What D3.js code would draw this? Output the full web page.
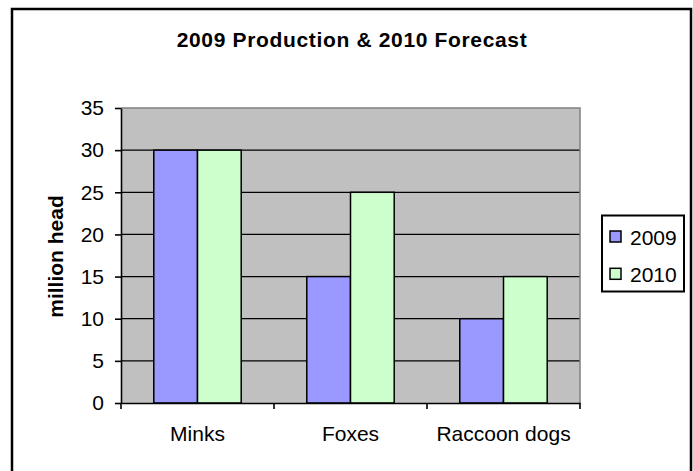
<!DOCTYPE html>
<html>
<head>
<meta charset="utf-8">
<script src="https://cdn.jsdelivr.net/npm/d3@7"></script>
<style>
  html, body { margin: 0; padding: 0; background: #fff; }
  svg { display: block; }
  text { font-family: "Liberation Sans", Arial, sans-serif; fill: #000; }
</style>
</head>
<body>
<svg id="chart" width="693" height="471"></svg>
<script>
// Fur animal production, million head
const categories = ["Minks", "Foxes", "Raccoon dogs"];
const seriesNames = ["2009", "2010"];
const values2009 = [30, 15, 10];
const values2010 = [30, 25, 15];
const yTicks = [0, 5, 10, 15, 20, 25, 30, 35];
const seriesColors = ["#9999FF", "#CCFFCC"];

const FONT = "'Liberation Sans', Arial, sans-serif";
const svg = d3.select("#chart");
const plot = { left: 121, right: 580, top: 108, bottom: 403 };

// outer chart frame
svg.append("rect")
  .attr("x", 12).attr("y", 9).attr("width", 679).attr("height", 480)
  .attr("fill", "#fff").attr("stroke", "#000").attr("stroke-width", 2.5);

const x = d3.scaleBand().domain(categories).range([plot.left, plot.right]).padding(0);
const xs = d3.scaleBand().domain(seriesNames).range([0, x.bandwidth()])
  .paddingInner(0).paddingOuter(0.75);
const y = d3.scaleLinear().domain([0, 35]).range([plot.bottom, plot.top]);

// plot area
svg.append("rect")
  .attr("x", plot.left).attr("y", plot.top)
  .attr("width", plot.right - plot.left).attr("height", plot.bottom - plot.top)
  .attr("fill", "#C0C0C0");

// gridlines
svg.append("g").selectAll("line")
  .data(yTicks.filter(t => t > 0 && t < 35))
  .join("line")
  .attr("x1", plot.left).attr("x2", plot.right)
  .attr("y1", d => y(d)).attr("y2", d => y(d))
  .attr("stroke", "#000").attr("stroke-width", 1.3);

// plot area border (top and right)
svg.append("path")
  .attr("d", `M${plot.left},${plot.top}H${plot.right}V${plot.bottom}`)
  .attr("fill", "none").attr("stroke", "#808080").attr("stroke-width", 1.5);

// bars
const rows = categories.map((c, i) => ({ cat: c, vals: [values2009[i], values2010[i]] }));
const groups = svg.append("g").selectAll("g")
  .data(rows).join("g")
  .attr("transform", d => `translate(${x(d.cat)},0)`);
groups.selectAll("rect")
  .data(d => d.vals.map((v, k) => ({ s: seriesNames[k], v, k })))
  .join("rect")
  .attr("x", d => xs(d.s))
  .attr("width", xs.bandwidth())
  .attr("y", d => y(d.v))
  .attr("height", d => y(0) - y(d.v))
  .attr("fill", d => seriesColors[d.k])
  .attr("stroke", "#000").attr("stroke-width", 1.5);

// y axis
const yAxis = svg.append("g")
  .attr("transform", `translate(${plot.left},0)`)
  .call(d3.axisLeft(y).tickValues(yTicks).tickSize(6).tickPadding(11).tickSizeOuter(0));
yAxis.select(".domain").attr("stroke", "#000").attr("stroke-width", 1.6);
yAxis.selectAll(".tick line").attr("stroke", "#000").attr("stroke-width", 1.6);
yAxis.selectAll(".tick text").style("font-size", "21px").attr("fill", "#000")
  .style("font-family", FONT);

// x axis
const xAxis = svg.append("g")
  .attr("transform", `translate(0,${plot.bottom})`)
  .call(d3.axisBottom(x).tickSize(0).tickPadding(23).tickSizeOuter(0));
xAxis.select(".domain").attr("stroke", "#000").attr("stroke-width", 1.6);
xAxis.selectAll(".tick text").style("font-size", "21px").attr("fill", "#000")
  .style("font-family", FONT);
// category boundary ticks
const bounds = categories.map(c => x(c)).concat([x(categories[categories.length - 1]) + x.bandwidth()]);
xAxis.selectAll(".bound").data(bounds).join("line")
  .attr("class", "bound")
  .attr("x1", d => d).attr("x2", d => d)
  .attr("y1", 0).attr("y2", 6)
  .attr("stroke", "#000").attr("stroke-width", 1.6);

// title
svg.append("text")
  .attr("x", 351.7).attr("y", 46.5)
  .attr("text-anchor", "middle")
  .style("font-size", "21px").style("font-weight", "bold")
  .attr("textLength", 350).attr("lengthAdjust", "spacing")
  .text("2009 Production & 2010 Forecast");

// y axis title
svg.append("text")
  .attr("transform", `translate(63,256.5) rotate(-90)`)
  .attr("text-anchor", "middle")
  .style("font-size", "21px").style("font-weight", "bold")
  .text("million head");

// legend
const legend = svg.append("g");
legend.append("rect")
  .attr("x", 602).attr("y", 215.5).attr("width", 82).attr("height", 76)
  .attr("fill", "#fff").attr("stroke", "#000").attr("stroke-width", 2);
const items = legend.selectAll("g.item").data(seriesNames).join("g")
  .attr("class", "item")
  .attr("transform", (d, i) => `translate(0,${i * 37.3})`);
items.append("rect")
  .attr("x", 610).attr("y", 231).attr("width", 11).attr("height", 11)
  .attr("fill", (d, i) => seriesColors[i]).attr("stroke", "#000").attr("stroke-width", 1.5);
items.append("text")
  .attr("x", 630).attr("y", 244.5)
  .style("font-size", "21px")
  .text(d => d);
</script>
</body>
</html>
